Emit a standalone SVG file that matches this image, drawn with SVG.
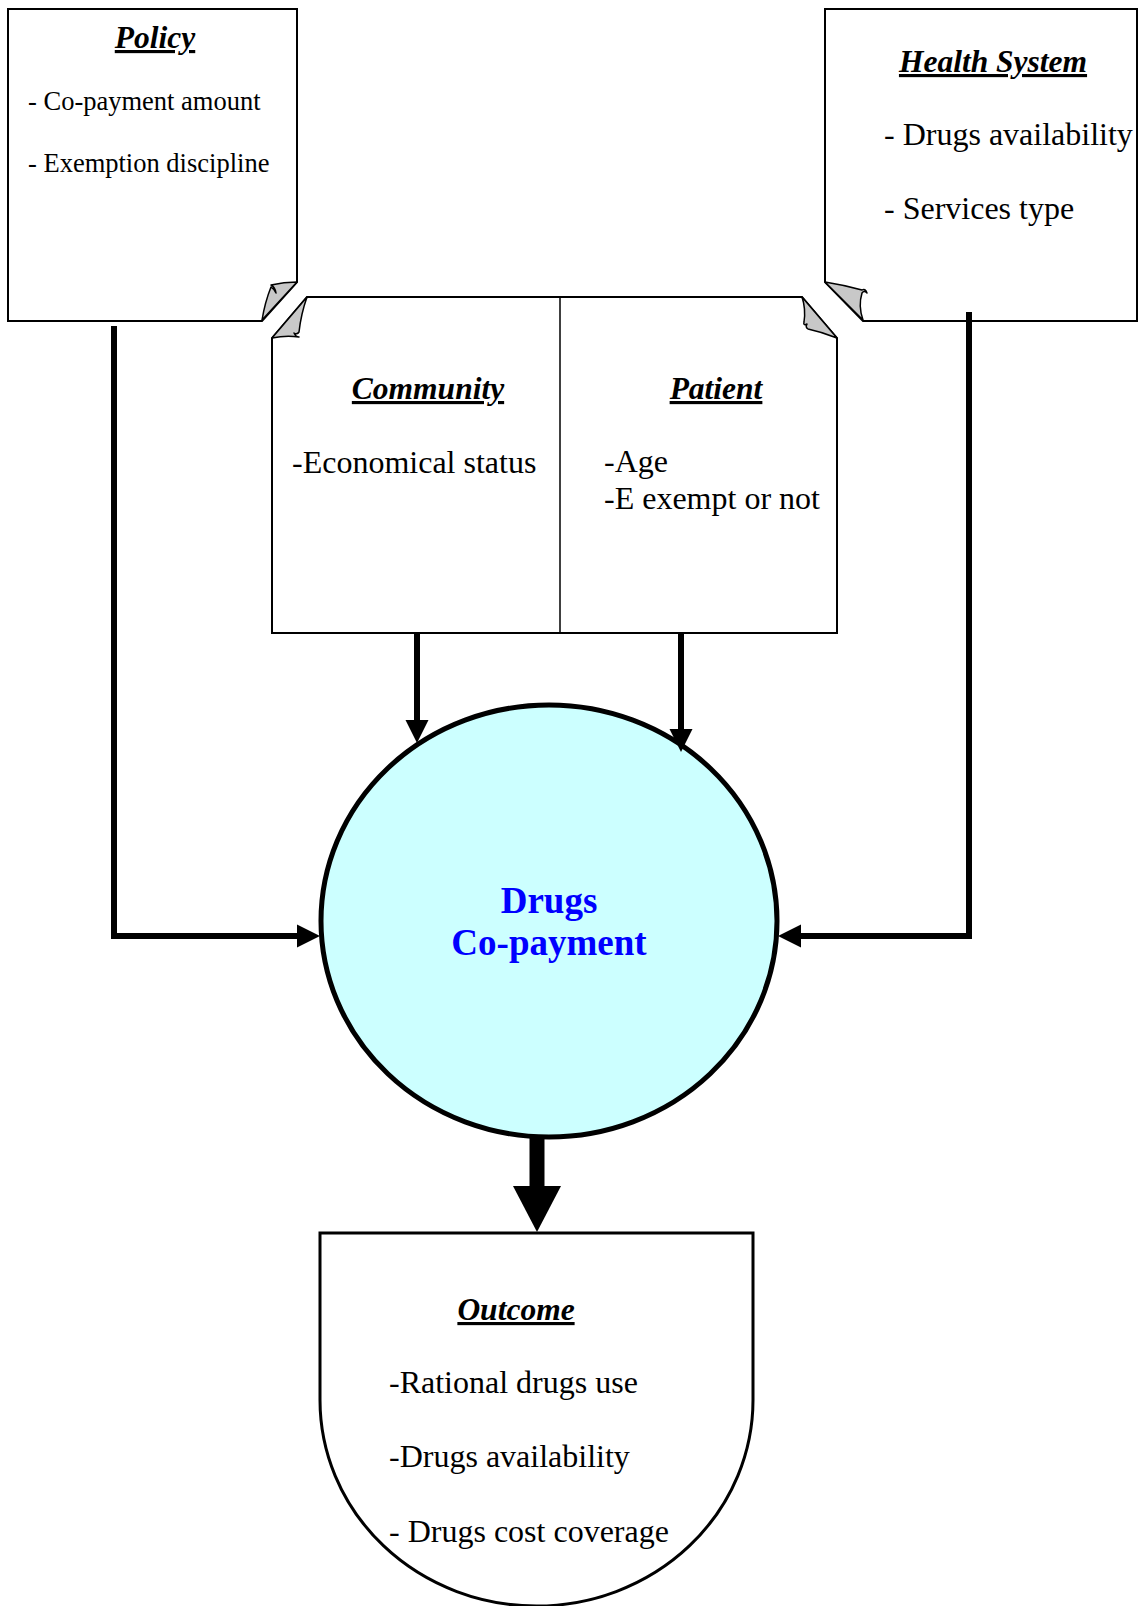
<svg xmlns="http://www.w3.org/2000/svg" width="1139" height="1606" viewBox="0 0 1139 1606">
<style>
.box{fill:#fff;stroke:#000;stroke-width:2}
.fold{fill:#c8c8c8;stroke:#000;stroke-width:1.5;stroke-linejoin:round}
.t{font-family:"Liberation Serif","Times New Roman",serif;fill:#000}
.title{font-weight:bold;font-style:italic;text-decoration:underline;font-size:31.5px;text-anchor:middle}
.body{font-size:32px}
.small{font-size:26.5px}
.conn{fill:none;stroke:#000;stroke-width:6}
.head{fill:#000}
</style>
<rect width="1139" height="1606" fill="#fff"/>

<g id="policy">
  <path class="box" d="M8,9 H297 V282 L262,321 H8 Z"/>
  <path class="fold" d="M297,282 L262,320 Q265,302 271,287 Q274,289 276,293 Q275,287 271,285 Q284,282 297,282 Z"/>
  <text class="t title" x="155" y="48"> Policy</text>
  <text class="t small" x="28" y="110">- Co-payment amount</text>
  <text class="t small" x="28" y="172">- Exemption discipline</text>
</g>

<g id="health-system">
  <path class="box" d="M825,9 H1137 V321 H863 L825,282 Z"/>
  <path class="fold" d="M825,282 L863,320 Q858,306 862,293 Q864,290 867,293 Q865,288 862,290 Q844,285 825,282 Z"/>
  <text class="t title" x="993" y="72">Health System</text>
  <text class="t body" x="884" y="145">- Drugs availability</text>
  <text class="t body" x="884" y="219">- Services type</text>
</g>

<g id="community-patient">
  <path class="box" d="M307,297 H802 L837,338 V633 H272 V338 Z"/>
  <line x1="560" y1="297" x2="560" y2="633" stroke="#000" stroke-width="1.5"/>
  <path class="fold" d="M272,338 L307,297 Q301,314 299,332 Q297,335 294,333 Q296,337 299,337 Q286,335 272,338 Z"/>
  <path class="fold" d="M802,297 L837,338 Q822,332 808,329 Q805,327 807,324 Q803,326 804,322 Q806,309 802,297 Z"/>
</g>

<g id="community">
  <text class="t title" x="428" y="399">Community</text>
  <text class="t body" x="292" y="473">-Economical status</text>
</g>

<g id="patient">
  <text class="t title" x="716" y="399">Patient</text>
  <text class="t body" x="604" y="472">-Age</text>
  <text class="t body" x="604" y="509">-E exempt or not</text>
</g>

<g id="drugs-copayment">
  <ellipse cx="549" cy="921" rx="228" ry="216" fill="#ccffff" stroke="#000" stroke-width="5"/>
  <text class="t" x="549" y="913" font-size="37" font-weight="bold" text-anchor="middle" style="fill:#0000ff">Drugs</text>
  <text class="t" x="549" y="955" font-size="37" font-weight="bold" text-anchor="middle" style="fill:#0000ff">Co-payment</text>
</g>

<g id="outcome">
  <path d="M320,1233 H753 V1400 A216.5,206 0 0 1 320,1400 Z" fill="#fff" stroke="#000" stroke-width="3"/>
  <text class="t title" x="516" y="1320"> Outcome</text>
  <text class="t body" x="389" y="1393">-Rational drugs use</text>
  <text class="t body" x="389" y="1467">-Drugs availability</text>
  <text class="t body" x="389" y="1542">- Drugs cost coverage</text>
</g>

<g id="connectors">
  <polyline class="conn" points="114,326 114,936 298,936"/>
  <polygon class="head" points="297,924.5 320,936 297,947.5"/>
  <polyline class="conn" points="969,312 969,936 800,936"/>
  <polygon class="head" points="801,924.5 778,936 801,947.5"/>
  <line class="conn" x1="417" y1="633" x2="417" y2="721"/>
  <polygon class="head" points="405.5,720 428.5,720 417,743"/>
  <line class="conn" x1="681" y1="633" x2="681" y2="730"/>
  <polygon class="head" points="669.5,729 692.5,729 681,752"/>
  <line x1="537" y1="1136" x2="537" y2="1188" stroke="#000" stroke-width="15"/>
  <polygon class="head" points="513,1186 561,1186 537,1232"/>
</g>
</svg>
